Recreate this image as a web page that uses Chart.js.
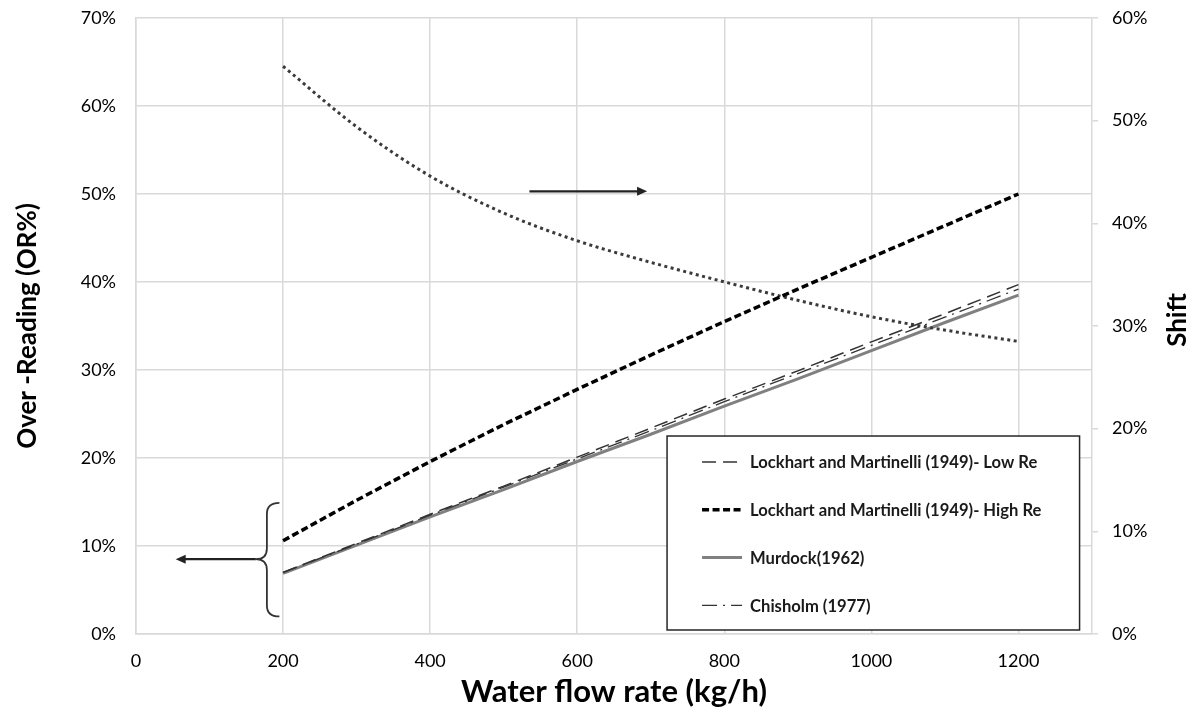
<!DOCTYPE html>
<html>
<head>
<meta charset="utf-8">
<script src="https://cdn.jsdelivr.net/npm/chart.js@4/dist/chart.umd.min.js"></script>
<style>
  html, body { margin: 0; padding: 0; background: #fff; }
  #wrap { width: 1195px; height: 715px; }
</style>
</head>
<body>
<div id="wrap"><canvas id="c" width="1195" height="715"></canvas></div>
<script>
// Water flow rate (kg/h)
const flowRates = [200, 300, 400, 500, 600, 700, 800, 900, 1000, 1100, 1200];

// Over-reading (OR%) by correlation
const lockhartLowRe  = [7.0, 10.3, 13.6, 16.8, 20.1, 23.4, 26.7, 29.9, 33.2, 36.4, 39.7];
const lockhartHighRe = [10.6, 15.2, 19.6, 23.8, 27.8, 31.7, 35.5, 39.2, 42.8, 46.4, 50.0];
const murdock        = [6.9, 10.1, 13.3, 16.4, 19.6, 22.7, 25.9, 29.0, 32.2, 35.4, 38.5];
const chisholm       = [7.0, 10.2, 13.5, 16.7, 19.9, 23.1, 26.4, 29.6, 32.8, 36.0, 39.2];

// Shift (%), right axis
const shift = [55.3, 49.4, 44.6, 41.0, 38.3, 36.2, 34.3, 32.5, 30.9, 29.6, 28.5];

// Tick values
const xTicks = [0, 200, 400, 600, 800, 1000, 1200];
const orTicks = [0, 10, 20, 30, 40, 50, 60, 70];
const shiftTicks = [0, 10, 20, 30, 40, 50, 60];

const FONT = 'Lato, "Open Sans", "DejaVu Sans", sans-serif';
const INK = '#000000';
const GRID = '#d9d9d9';

const pts = arr => flowRates.map((x, i) => ({ x, y: arr[i] }));

const datasets = [
  { label: 'Lockhart and Martinelli (1949)- Low Re', data: pts(lockhartLowRe),
    borderColor: '#333333', borderWidth: 1.5, borderDash: [14, 7], yAxisID: 'y', order: 1 },
  { label: 'Lockhart and Martinelli (1949)- High Re', data: pts(lockhartHighRe),
    borderColor: '#000000', borderWidth: 3.5, borderDash: [7, 3.5], yAxisID: 'y', order: 1 },
  { label: 'Murdock(1962)', data: pts(murdock),
    borderColor: '#808080', borderWidth: 3, borderDash: [], yAxisID: 'y', order: 10 },
  { label: 'Chisholm (1977)', data: pts(chisholm),
    borderColor: '#333333', borderWidth: 1.3, borderDash: [15, 6, 2, 6], yAxisID: 'y', order: 1 },
  { label: 'Shift', data: pts(shift), inLegend: false,
    borderColor: '#3a3a3a', borderWidth: 3, borderDash: [3, 3.5], yAxisID: 'y2', order: 2,
    cubicInterpolationMode: 'monotone' }
];
datasets.forEach(d => { d.pointRadius = 0; d.fill = false; d.tension = d.tension || 0; });

// Annotation anchors in data units (x: kg/h, y: OR%)
const rightArrow = { y: 50.3, x0: 535, x1: 695 };
const leftArrow  = { y: 8.5,  x0: 163, x1: 54 };
const brace      = { xEnd: 195, xSpine: 178, xTip: 163, yTop: 14.9, yMid: 8.5, yBot: 2.0 };

function arrow(ctx, x0, y0, x1, y1) {
  const dir = Math.sign(x1 - x0);
  ctx.beginPath();
  ctx.moveTo(x0, y0);
  ctx.lineTo(x1 - dir * 8, y1);
  ctx.stroke();
  ctx.beginPath();
  ctx.moveTo(x1, y1);
  ctx.lineTo(x1 - dir * 10, y1 - 4.5);
  ctx.lineTo(x1 - dir * 10, y1 + 4.5);
  ctx.closePath();
  ctx.fill();
}

const annotations = {
  id: 'annotations',
  afterDatasetsDraw(chart) {
    const { ctx, scales: { x, y } } = chart;
    ctx.save();
    ctx.strokeStyle = '#222';
    ctx.fillStyle = '#222';
    ctx.lineWidth = 2.2;
    ctx.setLineDash([]);
    arrow(ctx, x.getPixelForValue(rightArrow.x0), y.getPixelForValue(rightArrow.y),
               x.getPixelForValue(rightArrow.x1), y.getPixelForValue(rightArrow.y));
    arrow(ctx, x.getPixelForValue(leftArrow.x0), y.getPixelForValue(leftArrow.y),
               x.getPixelForValue(leftArrow.x1), y.getPixelForValue(leftArrow.y));
    // curly brace grouping the low-flow starting points
    const xe = x.getPixelForValue(brace.xEnd), xs = x.getPixelForValue(brace.xSpine),
          xt = x.getPixelForValue(brace.xTip);
    const yt = y.getPixelForValue(brace.yTop), ym = y.getPixelForValue(brace.yMid),
          yb = y.getPixelForValue(brace.yBot);
    const r = 11;
    ctx.strokeStyle = '#333';
    ctx.lineWidth = 1.8;
    ctx.beginPath();
    ctx.moveTo(xe, yt);
    ctx.quadraticCurveTo(xs, yt, xs, yt + r);
    ctx.lineTo(xs, ym - r);
    ctx.quadraticCurveTo(xs, ym, xt, ym);
    ctx.quadraticCurveTo(xs, ym, xs, ym + r);
    ctx.lineTo(xs, yb - r);
    ctx.quadraticCurveTo(xs, yb, xe, yb);
    ctx.stroke();
    ctx.restore();
  }
};

const legendBox = {
  id: 'legendBox',
  afterDraw(chart) {
    const { ctx, chartArea: a } = chart;
    const w = a.right - a.left, h = a.bottom - a.top;
    const L = a.left + 0.5555 * w, R = a.left + 0.987 * w;
    const T = a.top + 0.6786 * h, B = a.top + 0.9935 * h;
    ctx.save();
    ctx.fillStyle = '#fff';
    ctx.fillRect(L, T, R - L, B - T);
    ctx.strokeStyle = '#262626';
    ctx.lineWidth = 1.5;
    ctx.setLineDash([]);
    ctx.strokeRect(L, T, R - L, B - T);
    const items = chart.data.datasets.filter(d => d.inLegend !== false);
    ctx.font = 'bold 16.6px ' + FONT;
    ctx.textBaseline = 'middle';
    ctx.textAlign = 'left';
    items.forEach((d, i) => {
      const yy = T + 26 + i * 47.8;
      ctx.strokeStyle = d.borderColor;
      ctx.lineWidth = d.borderWidth;
      ctx.setLineDash(d.borderDash || []);
      ctx.beginPath();
      ctx.moveTo(L + 35, yy);
      ctx.lineTo(L + 75, yy);
      ctx.stroke();
      ctx.setLineDash([]);
      ctx.fillStyle = '#1a1a1a';
      ctx.fillText(d.label, L + 83, yy + 1);
    });
    ctx.restore();
  }
};

const rightTitle = {
  id: 'rightTitle',
  afterDraw(chart) {
    const { ctx, chartArea: a } = chart;
    ctx.save();
    ctx.translate(1178, (a.top + a.bottom) / 2 - 6);
    ctx.rotate(-Math.PI / 2);
    ctx.font = 'bold 26px ' + FONT;
    ctx.fillStyle = INK;
    ctx.textAlign = 'center';
    ctx.textBaseline = 'middle';
    ctx.fillText('Shift', 0, 0);
    ctx.restore();
  }
};

const setTicks = list => scale => { scale.ticks = list.map(v => ({ value: v })); };
const pct = v => v + '%';
const plain = v => String(v);
const fixWidth = w => s => { s.width = w; s.paddingTop = 0; s.paddingBottom = 0; };

new Chart(document.getElementById('c'), {
  type: 'line',
  data: { datasets },
  options: {
    responsive: false,
    animation: false,
    devicePixelRatio: 1,
    layout: { padding: { top: 18, left: 0, right: 0, bottom: 0 } },
    plugins: { legend: { display: false }, tooltip: { enabled: false } },
    scales: {
      x: {
        type: 'linear', min: 0, max: 1300,
        afterBuildTicks: setTicks(xTicks),
        afterFit: s => { s.height = 81; s.paddingLeft = 0; s.paddingRight = 0; },
        grid: { color: GRID, lineWidth: 1.5, drawTicks: false },
        border: { color: GRID, width: 1.5 },
        ticks: { color: INK, font: { family: FONT, size: 18 }, padding: 16, callback: plain },
        title: { display: true, text: 'Water flow rate (kg/h)', color: INK,
                 font: { family: FONT, size: 31, weight: 'bold' }, padding: { top: 1 } }
      },
      y: {
        type: 'linear', position: 'left', min: 0, max: 70,
        afterBuildTicks: setTicks(orTicks),
        afterFit: fixWidth(136),
        grid: { color: GRID, lineWidth: 1.5, drawTicks: false },
        border: { color: GRID, width: 1.5 },
        ticks: { color: INK, font: { family: FONT, size: 18 }, padding: 20, callback: pct },
        title: { display: true, text: 'Over -Reading (OR%)', color: INK,
                 font: { family: FONT, size: 26, weight: 'bold' }, padding: { top: 12, bottom: 0 } }
      },
      y2: {
        type: 'linear', position: 'right', min: 0, max: 60,
        afterBuildTicks: setTicks(shiftTicks),
        afterFit: fixWidth(103),
        grid: { drawOnChartArea: false, color: GRID, lineWidth: 1.5, drawTicks: true, tickLength: 6 },
        border: { color: GRID, width: 1.5 },
        ticks: { color: INK, font: { family: FONT, size: 18 }, padding: 14, callback: pct }
      }
    }
  },
  plugins: [annotations, legendBox, rightTitle]
});
</script>
</body>
</html>
